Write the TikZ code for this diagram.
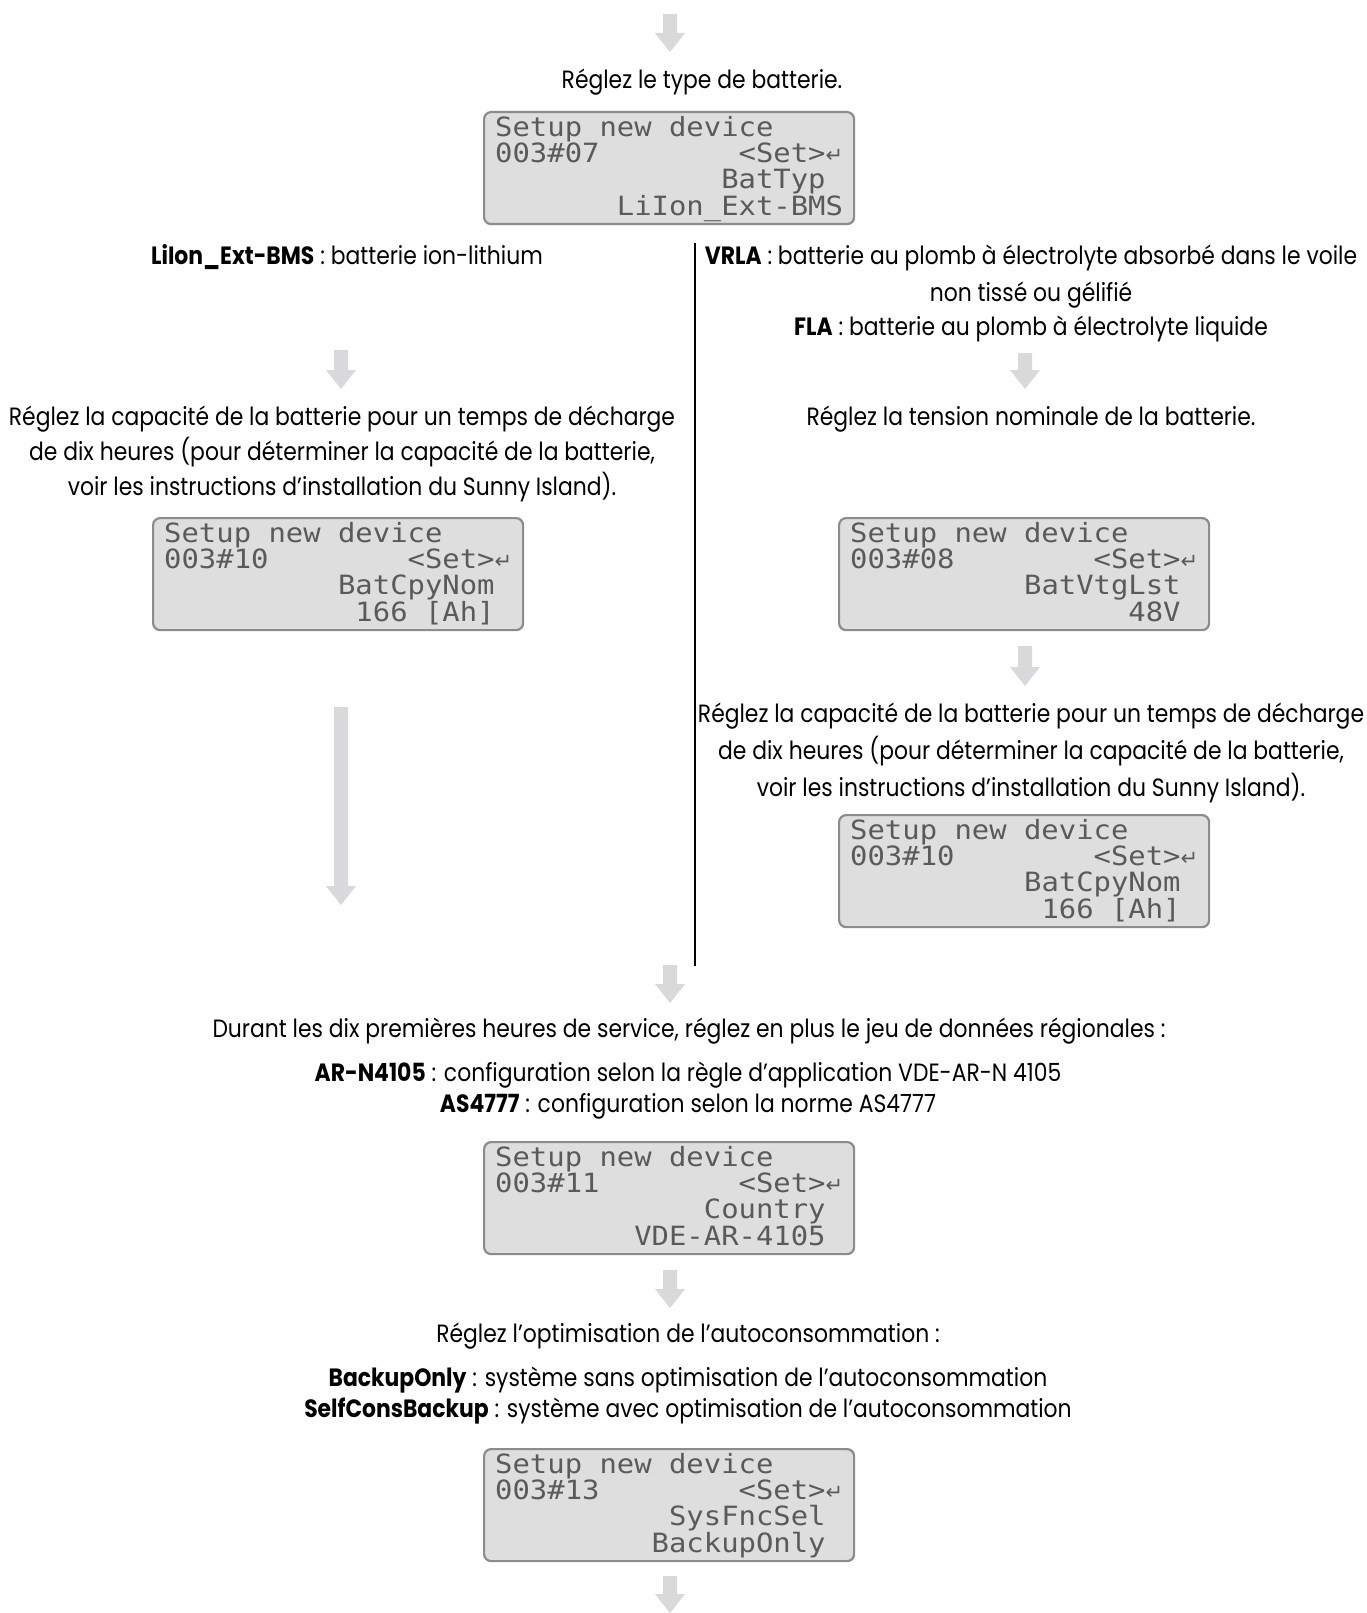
\documentclass[tikz,border=0pt]{standalone}
\usepackage{fontspec}
\setmainfont{Poppins}[FakeStretch=0.875]
\newfontfamily\lcd{DejaVu Sans Mono}[FakeStretch=1.09]
\newfontfamily\arrowfnt{DejaVu Sans}
\definecolor{arrowgray}{RGB}{217,217,219}
\definecolor{lcdfill}{RGB}{222,222,222}
\definecolor{lcdborder}{RGB}{140,140,140}
\definecolor{lcdtext}{RGB}{90,90,90}
\newcommand\lsp[1]{\hskip #1\fontcharwd\font`0\relax}
\newcommand\ret{\hbox to \fontcharwd\font`0{\hss{\arrowfnt\fontsize{21}{21}\selectfont ↵}\hss}}
\newcommand\lcdrows[4]{\vbox to 108pt{\vskip 2pt\baselineskip=26.3pt\hbox{#1}\hbox{#2}\hbox{#3}\hbox{#4}\vss}}
\newcommand\barrow[3]{\fill[arrowgray] (#1-7,#2) -- (#1+7,#2) -- (#1+7,#3-19) -- (#1+15,#3-19) -- (#1,#3) -- (#1-15,#3-19) -- (#1-7,#3-19) -- cycle;}
\tikzset{
  lcdbox/.style={draw=lcdborder, fill=lcdfill, line width=2.2pt, rounded corners=7pt,
    minimum width=370pt, minimum height=112pt, anchor=north west, inner sep=0pt,
    text=lcdtext, font=\lcd\fontsize{26.5}{26.3}\selectfont},
  txt/.style={anchor=base, inner sep=0pt, font=\fontsize{25}{36}\selectfont},
}
\begin{document}
\begin{tikzpicture}[x=1pt,y=-1pt]
\fill[white] (0,0) rectangle (1366,1613);
\useasboundingbox (0,0) rectangle (1366,1613);

% block arrows
\barrow{670}{14}{52}
\barrow{341}{350}{389}
\barrow{1025}{353}{389}
\barrow{1025}{646}{686}
\barrow{341}{707}{905}
\barrow{670}{965}{1003}
\barrow{670}{1270}{1308}
\barrow{670}{1576}{1613}

% separator line
\coordinate (vtop) at (695,243);
\coordinate (vbot) at (695,966);
\draw[line width=2pt] (vtop) -- (vbot);

% texts
\node[txt] (t1) at (702,89) {Réglez le type de batterie.};
\node[lcdbox] (b1) at (483,111) {\lcdrows{Setup new device}{003\#07\lsp{8}<Set>\ret}{\lsp{13}BatTyp\lsp{1}}{\lsp{7}LiIon\_Ext-BMS}};

\node[txt] (l1) at (347,265) {\textbf{LiIon\_Ext-BMS} : batterie ion-lithium};
\node[txt] (r1a) at (1031,265) {\textbf{VRLA} : batterie au plomb à électrolyte absorbé dans le voile};
\node[txt] (r1b) at (1031,301) {non tissé ou gélifié};
\node[txt] (r1c) at (1031,335) {\textbf{FLA} : batterie au plomb à électrolyte liquide};

\node[txt] (l2a) at (342,425) {Réglez la capacité de la batterie pour un temps de décharge};
\node[txt] (l2b) at (342,460) {de dix heures (pour déterminer la capacité de la batterie,};
\node[txt] (l2c) at (342,495) {voir les instructions d’installation du Sunny Island).};
\node[lcdbox] (bl) at (152,517) {\lcdrows{Setup new device}{003\#10\lsp{8}<Set>\ret}{\lsp{10}BatCpyNom\lsp{1}}{\lsp{11}166 [Ah]\lsp{1}}};

\node[txt] (r2) at (1031,425) {Réglez la tension nominale de la batterie.};
\node[lcdbox] (br1) at (838,517) {\lcdrows{Setup new device}{003\#08\lsp{8}<Set>\ret}{\lsp{10}BatVtgLst\lsp{1}}{\lsp{16}48V\lsp{1}}};

\node[txt] (r3a) at (1031,722) {Réglez la capacité de la batterie pour un temps de décharge};
\node[txt] (r3b) at (1031,759) {de dix heures (pour déterminer la capacité de la batterie,};
\node[txt] (r3c) at (1031,796) {voir les instructions d’installation du Sunny Island).};
\node[lcdbox] (br2) at (838,814) {\lcdrows{Setup new device}{003\#10\lsp{8}<Set>\ret}{\lsp{10}BatCpyNom\lsp{1}}{\lsp{11}166 [Ah]\lsp{1}}};

\node[txt] (c1) at (689,1037) {Durant les dix premières heures de service, réglez en plus le jeu de données régionales :};
\node[txt] (c2) at (688,1081) {\textbf{AR-N4105} : configuration selon la règle d’application VDE-AR-N 4105};
\node[txt] (c3) at (688,1112) {\textbf{AS4777} : configuration selon la norme AS4777};
\node[lcdbox] (b11) at (483,1141) {\lcdrows{Setup new device}{003\#11\lsp{8}<Set>\ret}{\lsp{12}Country\lsp{1}}{\lsp{8}VDE-AR-4105\lsp{1}}};

\node[txt] (c4) at (688,1342) {Réglez l’optimisation de l’autoconsommation :};
\node[txt] (c5) at (688,1386) {\textbf{BackupOnly} : système sans optimisation de l’autoconsommation};
\node[txt] (c6) at (688,1417) {\textbf{SelfConsBackup} : système avec optimisation de l’autoconsommation};
\node[lcdbox] (b13) at (483,1448) {\lcdrows{Setup new device}{003\#13\lsp{8}<Set>\ret}{\lsp{10}SysFncSel\lsp{1}}{\lsp{9}BackupOnly\lsp{1}}};
\end{tikzpicture}
\end{document}
